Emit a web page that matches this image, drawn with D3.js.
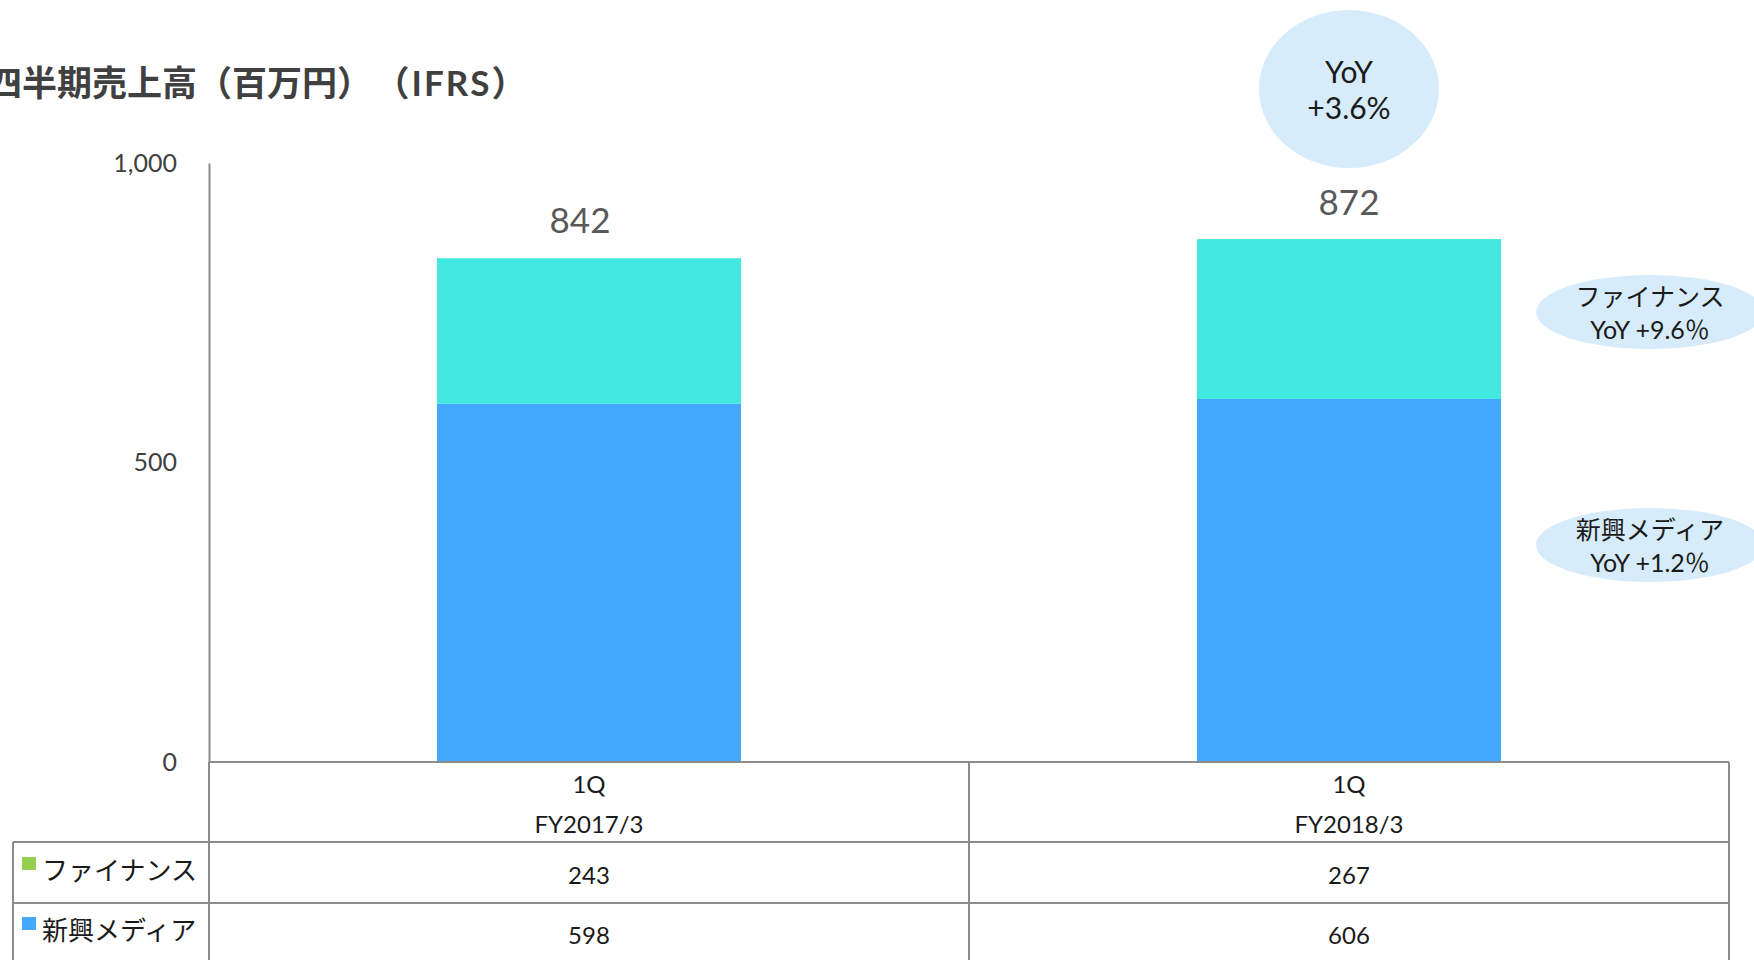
<!DOCTYPE html>
<html>
<head>
<meta charset="utf-8">
<script src="https://cdn.jsdelivr.net/npm/d3@7"></script>
<style>
    body { margin: 0; background: #fff; }
    svg { display: block; font-family: "Lato", "Noto Sans CJK JP", sans-serif; }
</style>
</head>
<body>
<svg id="chart" width="1754" height="960"></svg>
<script>
// data
var quarters = ["1Q", "1Q"];
var fiscalYears = ["FY2017/3", "FY2018/3"];
var finance = [243, 267];
var media = [598, 606];
var totals = [842, 872];
var seriesNames = ["ファイナンス", "新興メディア"];
var yTicks = [0, 500, 1000];
var totalYoY = ["YoY", "+3.6%"];
var financeYoY = ["ファイナンス", "YoY +9.6％"];
var mediaYoY = ["新興メディア", "YoY +1.2％"];

var colors = { finance: "#40e8e0", media: "#44a8ff", legendFinance: "#92d050", bubble: "#d6ecfb", grid: "#8c8c8c" };

var svg = d3.select("#chart");

var x = d3.scaleBand()
    .domain(d3.range(quarters.length))
    .range([209, 1729])
    .paddingInner(0.6)
    .paddingOuter(0.3);

var y = d3.scaleLinear()
    .domain([0, 1000])
    .range([762, 163]);

// title (left edge is cut off in the original slide too)
var title = svg.append("text")
    .attr("x", -13)
    .attr("y", 82)
    .attr("dominant-baseline", "central")
    .attr("font-size", 35)
    .attr("font-weight", "bold")
    .attr("fill", "#404040");
title.append("tspan").text("四半期売上高（百万円）");
title.append("tspan").attr("dx", 20).attr("letter-spacing", 2).text("（IFRS）");

// stacked bars
var g = svg.append("g");
g.selectAll("rect.media")
    .data(media)
    .enter().append("rect")
    .attr("class", "media")
    .attr("x", function (d, i) { return x(i); })
    .attr("width", x.bandwidth())
    .attr("y", function (d) { return y(d); })
    .attr("height", function (d) { return y(0) - y(d); })
    .attr("fill", colors.media);

g.selectAll("rect.finance")
    .data(finance)
    .enter().append("rect")
    .attr("class", "finance")
    .attr("x", function (d, i) { return x(i); })
    .attr("width", x.bandwidth())
    .attr("y", function (d, i) { return y(media[i] + d); })
    .attr("height", function (d) { return y(0) - y(d); })
    .attr("fill", colors.finance);

// totals above bars
g.selectAll("text.total")
    .data(totals)
    .enter().append("text")
    .attr("class", "total")
    .attr("x", function (d, i) { return x(i) + x.bandwidth() / 2 - (i === 0 ? 9 : 0); })
    .attr("y", function (d) { return y(d) - 39; })
    .attr("text-anchor", "middle")
    .attr("dominant-baseline", "central")
    .attr("font-size", 35)
    .attr("fill", "#595959")
    .text(function (d) { return d; });

// y axis
var yAxis = svg.append("g")
    .attr("transform", "translate(209,0)")
    .call(d3.axisLeft(y).tickValues(yTicks).tickSize(0).tickPadding(32).tickFormat(d3.format(",")));
yAxis.select(".domain").attr("stroke", colors.grid).attr("stroke-width", 2);
yAxis.selectAll("text")
    .attr("font-size", 25)
    .attr("fill", "#404040")
    .attr("font-family", "Lato, sans-serif");

// data table below the chart
var table = svg.append("g").attr("stroke", colors.grid).attr("stroke-width", 2).attr("fill", "none");
var colEdges = [209, 969, 1729];
var rowLines = [762, 842, 903];
table.append("line").attr("x1", 209).attr("x2", 1729).attr("y1", rowLines[0]).attr("y2", rowLines[0]);
table.selectAll("line.row")
    .data(rowLines.slice(1))
    .enter().append("line")
    .attr("x1", 13).attr("x2", 1729)
    .attr("y1", function (d) { return d; }).attr("y2", function (d) { return d; });
table.selectAll("line.col")
    .data(colEdges)
    .enter().append("line")
    .attr("x1", function (d) { return d; }).attr("x2", function (d) { return d; })
    .attr("y1", 762).attr("y2", 960);
table.append("line").attr("x1", 13).attr("x2", 13).attr("y1", 842).attr("y2", 960);

var cellText = function (sel, size) {
    return sel.attr("text-anchor", "middle")
        .attr("dominant-baseline", "central")
        .attr("font-size", size)
        .attr("fill", "#1a1a1a");
};

quarters.forEach(function (q, i) {
    var cx = x(i) + x.bandwidth() / 2;
    cellText(svg.append("text").attr("x", cx).attr("y", 783), 24).text(q);
    cellText(svg.append("text").attr("x", cx).attr("y", 823), 24).text(fiscalYears[i]);
    cellText(svg.append("text").attr("x", cx).attr("y", 874), 24).text(finance[i]);
    cellText(svg.append("text").attr("x", cx).attr("y", 934), 24).text(media[i]);
});

// row legends
var legendRows = [
    { name: seriesNames[0], color: colors.legendFinance, y: 870 },
    { name: seriesNames[1], color: colors.media, y: 930 }
];
legendRows.forEach(function (r) {
    svg.append("rect").attr("x", 22).attr("y", r.y - 13).attr("width", 14).attr("height", 13).attr("fill", r.color);
    svg.append("text")
        .attr("x", 42).attr("y", r.y)
        .attr("dominant-baseline", "central")
        .attr("font-size", 26)
        .attr("fill", "#1a1a1a")
        .text(r.name);
});

// YoY bubbles
function bubble(cx, cy, rx, ry, lines, size, gap) {
    svg.append("ellipse")
        .attr("cx", cx).attr("cy", cy).attr("rx", rx).attr("ry", ry)
        .attr("fill", colors.bubble);
    lines.forEach(function (t, k) {
        svg.append("text")
            .attr("x", cx)
            .attr("y", cy + (k - (lines.length - 1) / 2) * gap)
            .attr("text-anchor", "middle")
            .attr("dominant-baseline", "central")
            .attr("font-size", size)
            .attr("fill", "#1a1a1a")
            .text(t);
    });
}
bubble(x(1) + x.bandwidth() / 2, 89, 90, 79, totalYoY, 30, 36);
bubble(1650, 312, 114, 37, financeYoY, 25, 33);
bubble(1650, 545, 114, 37, mediaYoY, 25, 33);
</script>
</body>
</html>
